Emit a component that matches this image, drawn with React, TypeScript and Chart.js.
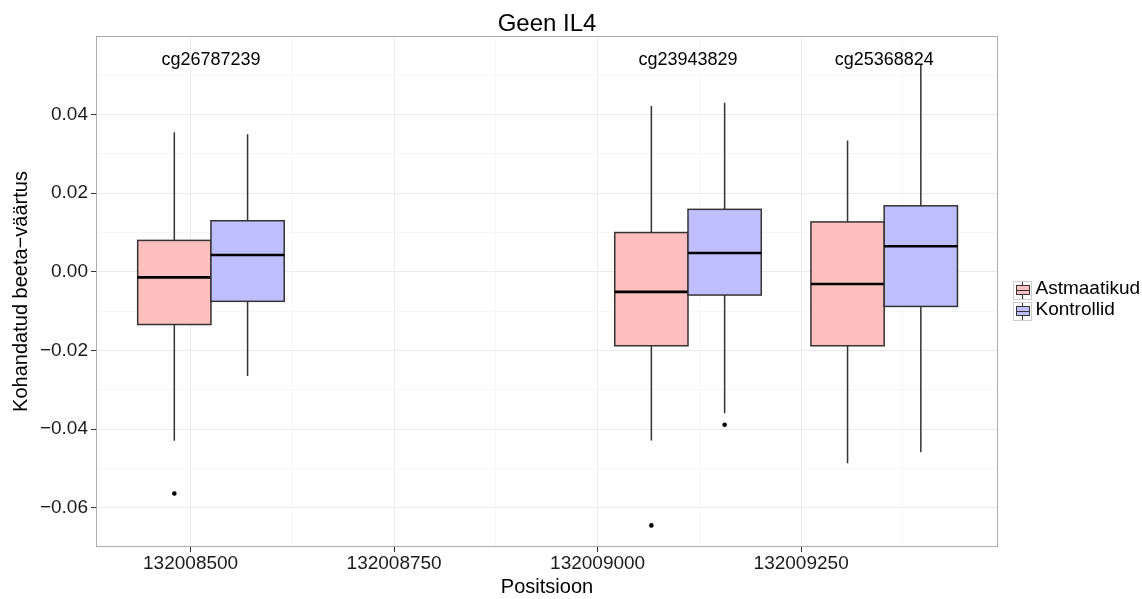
import React, { useEffect, useRef } from 'react';
import { Chart, registerables } from 'chart.js';

Chart.register(...registerables);

// ---------- data ----------
const siteNames = ['cg26787239', 'cg23943829', 'cg25368824'];
const sitePositions = [132008525, 132009111, 132009352];
const seriesNames = ['Astmaatikud', 'Kontrollid'];

// Astmaatikud: lower whisker, Q1, median, Q3, upper whisker per site
const astLower = [-0.043, -0.0429, -0.0487];
const astQ1 = [-0.0134, -0.0188, -0.0188];
const astMedian = [-0.0014, -0.0051, -0.0031];
const astQ3 = [0.008, 0.01, 0.0127];
const astUpper = [0.0355, 0.0422, 0.0334];
const astOutlierSite = [0, 1];
const astOutlierValue = [-0.0564, -0.0645];

// Kontrollid
const konLower = [-0.0265, -0.036, -0.0459];
const konQ1 = [-0.0075, -0.0059, -0.0088];
const konMedian = [0.0043, 0.0048, 0.0065];
const konQ3 = [0.013, 0.0159, 0.0168];
const konUpper = [0.035, 0.043, 0.0526];
const konOutlierSite = [1];
const konOutlierValue = [-0.0389];

const xMajorTicks = [132008500, 132008750, 132009000, 132009250];
const xMinorTicks = [132008625, 132008875, 132009125, 132009375];
const yMajorTicks = [-0.06, -0.04, -0.02, 0, 0.02, 0.04];
const yMinorTicks = [-0.05, -0.03, -0.01, 0.01, 0.03, 0.05];

// ---------- styling ----------
const FONT = '"Liberation Sans", Arial, Helvetica, sans-serif';
const BOX_W = 90; // box width in position units
const SITE_LABEL_Y = 0.0538;
const X_MIN = 132008383.8;
const X_MAX = 132009491.8;
const Y_MIN = -0.07;
const Y_MAX = 0.06;
const FILLS = ['rgba(255,0,0,0.25)', 'rgba(0,0,255,0.25)'];
const OUTLINE = '#333333';

const seriesStats = [
  { lower: astLower, q1: astQ1, median: astMedian, q3: astQ3, upper: astUpper },
  { lower: konLower, q1: konQ1, median: konMedian, q3: konQ3, upper: konUpper },
];

const dodge = (si: number) => (si === 0 ? -BOX_W / 2 : BOX_W / 2);

const isIn = (arr: number[], v: number) => arr.some((a) => Math.abs(a - v) < 1e-9);

const fmtY = (v: number) => {
  const s = Math.abs(v).toFixed(2);
  return v < -1e-9 ? '\u2212' + s : s;
};

function makeIcon(fill: string) {
  const c = document.createElement('canvas');
  c.width = 38;
  c.height = 24;
  const g = c.getContext('2d')!;
  const t = 4; // vertical offset inside image
  g.fillStyle = '#FFFFFF';
  g.fillRect(19, t, 19, 19);
  g.strokeStyle = '#CCCCCC';
  g.lineWidth = 1;
  g.strokeRect(19.5, t + 0.5, 18, 18);
  g.strokeStyle = OUTLINE;
  g.beginPath();
  g.moveTo(28.5, t + 1);
  g.lineTo(28.5, t + 18);
  g.stroke();
  g.fillStyle = '#FFFFFF';
  g.fillRect(22, t + 4, 14, 10);
  g.fillStyle = fill;
  g.fillRect(22, t + 4, 14, 10);
  g.strokeStyle = OUTLINE;
  g.strokeRect(22.5, t + 4.5, 13, 9);
  g.beginPath();
  g.moveTo(22, t + 9.5);
  g.lineTo(36, t + 9.5);
  g.stroke();
  return c;
}

const boxPlugin = {
  id: 'boxplots',
  beforeDatasetsDraw(chart: any) {
    const { ctx, chartArea, scales } = chart;
    const x = scales.x;
    const y = scales.y;
    ctx.save();
    ctx.beginPath();
    ctx.rect(chartArea.left, chartArea.top, chartArea.right - chartArea.left, chartArea.bottom - chartArea.top);
    ctx.clip();

    ctx.font = `18px ${FONT}`;
    ctx.fillStyle = '#000000';
    ctx.textAlign = 'center';
    ctx.textBaseline = 'middle';
    siteNames.forEach((name, i) => {
      ctx.fillText(name, x.getPixelForValue(sitePositions[i]), y.getPixelForValue(SITE_LABEL_Y));
    });

    seriesStats.forEach((s, si) => {
      sitePositions.forEach((pos, i) => {
        const c = pos + dodge(si);
        const xl = x.getPixelForValue(c - BOX_W / 2);
        const xr = x.getPixelForValue(c + BOX_W / 2);
        const xc = x.getPixelForValue(c);
        const yLo = y.getPixelForValue(s.lower[i]);
        const yQ1 = y.getPixelForValue(s.q1[i]);
        const yMed = y.getPixelForValue(s.median[i]);
        const yQ3 = y.getPixelForValue(s.q3[i]);
        const yHi = y.getPixelForValue(s.upper[i]);

        ctx.strokeStyle = OUTLINE;
        ctx.lineWidth = 1.5;
        ctx.beginPath();
        ctx.moveTo(xc, yHi);
        ctx.lineTo(xc, yQ3);
        ctx.moveTo(xc, yQ1);
        ctx.lineTo(xc, yLo);
        ctx.stroke();

        ctx.fillStyle = '#FFFFFF';
        ctx.fillRect(xl, yQ3, xr - xl, yQ1 - yQ3);
        ctx.fillStyle = FILLS[si];
        ctx.fillRect(xl, yQ3, xr - xl, yQ1 - yQ3);
        ctx.strokeRect(xl, yQ3, xr - xl, yQ1 - yQ3);

        ctx.strokeStyle = '#000000';
        ctx.lineWidth = 2.6;
        ctx.beginPath();
        ctx.moveTo(xl, yMed);
        ctx.lineTo(xr, yMed);
        ctx.stroke();
      });
    });
    ctx.restore();
  },
  afterDraw(chart: any) {
    const { ctx, chartArea } = chart;
    ctx.save();
    ctx.strokeStyle = '#ABABAB';
    ctx.lineWidth = 1;
    ctx.strokeRect(
      Math.round(chartArea.left) + 0.5,
      Math.round(chartArea.top) + 0.5,
      Math.round(chartArea.right - chartArea.left) - 1,
      Math.round(chartArea.bottom - chartArea.top) - 1
    );
    ctx.restore();
  },
};

export default function App() {
  const ref = useRef<HTMLCanvasElement | null>(null);

  useEffect(() => {
    if (!ref.current) return;
    Chart.defaults.font.family = FONT;
    const icons = [makeIcon(FILLS[0]), makeIcon(FILLS[1])];

    const chart = new Chart(ref.current, {
      type: 'scatter',
      data: {
        datasets: [
          {
            label: seriesNames[0],
            data: astOutlierSite.map((s, k) => ({ x: sitePositions[s] + dodge(0), y: astOutlierValue[k] })),
            backgroundColor: '#000000',
            borderColor: '#000000',
            borderWidth: 0,
            pointRadius: 2.3,
            pointHoverRadius: 2.3,
          },
          {
            label: seriesNames[1],
            data: konOutlierSite.map((s, k) => ({ x: sitePositions[s] + dodge(1), y: konOutlierValue[k] })),
            backgroundColor: '#000000',
            borderColor: '#000000',
            borderWidth: 0,
            pointRadius: 2.3,
            pointHoverRadius: 2.3,
          },
        ],
      },
      options: {
        animation: false,
        responsive: false,
        devicePixelRatio: 1,
        layout: { padding: 0 },
        scales: {
          x: {
            type: 'linear',
            min: X_MIN,
            max: X_MAX,
            afterBuildTicks: (scale: any) => {
              scale.ticks = [...xMajorTicks, ...xMinorTicks].sort((a, b) => a - b).map((v) => ({ value: v }));
            },
            afterFit: (scale: any) => {
              scale.height = 52;
            },
            ticks: {
              autoSkip: false,
              maxRotation: 0,
              minRotation: 0,
              padding: 0,
              color: '#1A1A1A',
              font: { size: 19, family: FONT },
              callback: (v: any) => (isIn(xMajorTicks, Number(v)) ? String(v) : ''),
            },
            grid: {
              color: (c: any) => (c.tick && isIn(xMajorTicks, c.tick.value) ? '#EBEBEB' : '#F6F6F6'),
              tickColor: (c: any) => (c.tick && isIn(xMajorTicks, c.tick.value) ? '#333333' : 'rgba(0,0,0,0)'),
              tickLength: 5,
              lineWidth: 1,
            },
            border: { display: false },
            title: {
              display: true,
              text: 'Positsioon',
              color: '#000000',
              font: { size: 20, family: FONT },
              padding: { top: 0, bottom: 0 },
            },
          },
          y: {
            type: 'linear',
            min: Y_MIN,
            max: Y_MAX,
            afterBuildTicks: (scale: any) => {
              scale.ticks = [...yMajorTicks, ...yMinorTicks].sort((a, b) => a - b).map((v) => ({ value: v }));
            },
            afterFit: (scale: any) => {
              scale.width = 96;
            },
            ticks: {
              autoSkip: false,
              padding: 3,
              color: '#1A1A1A',
              font: { size: 19, family: FONT },
              callback: (v: any) => (isIn(yMajorTicks, Number(v)) ? fmtY(Number(v)) : ''),
            },
            grid: {
              color: (c: any) => (c.tick && isIn(yMajorTicks, c.tick.value) ? '#EBEBEB' : '#F6F6F6'),
              tickColor: (c: any) => (c.tick && isIn(yMajorTicks, c.tick.value) ? '#333333' : 'rgba(0,0,0,0)'),
              tickLength: 5,
              lineWidth: 1,
            },
            border: { display: false },
            title: {
              display: true,
              text: 'Kohandatud beeta\u2212väärtus',
              color: '#000000',
              font: { size: 20, family: FONT },
              padding: { top: 9, bottom: 0 },
            },
          },
        },
        plugins: {
          title: {
            display: true,
            text: 'Geen IL4',
            color: '#000000',
            fullSize: false,
            font: { size: 24, weight: 'normal', family: FONT, lineHeight: 1 },
            padding: { top: 12, bottom: 0 },
          },
          legend: {
            display: true,
            position: 'right',
            maxWidth: 144,
            labels: {
              usePointStyle: true,
              pointStyleWidth: 26,
              padding: 2,
              color: '#000000',
              font: { size: 19, family: FONT },
              generateLabels: () =>
                seriesNames.map((name, i) => ({
                  text: name,
                  pointStyle: icons[i],
                  fillStyle: FILLS[i],
                  strokeStyle: OUTLINE,
                  lineWidth: 0,
                  hidden: false,
                  datasetIndex: i,
                  fontColor: '#000000',
                })),
            },
          },
          tooltip: { enabled: false },
        },
      } as any,
      plugins: [boxPlugin],
    });
    return () => chart.destroy();
  }, []);

  return (
    <div style={{ position: 'fixed', left: 0, top: 0, width: 1142, height: 599, background: '#FFFFFF' }}>
      <canvas ref={ref} width={1142} height={599} style={{ display: 'block', width: 1142, height: 599 }} />
    </div>
  );
}
